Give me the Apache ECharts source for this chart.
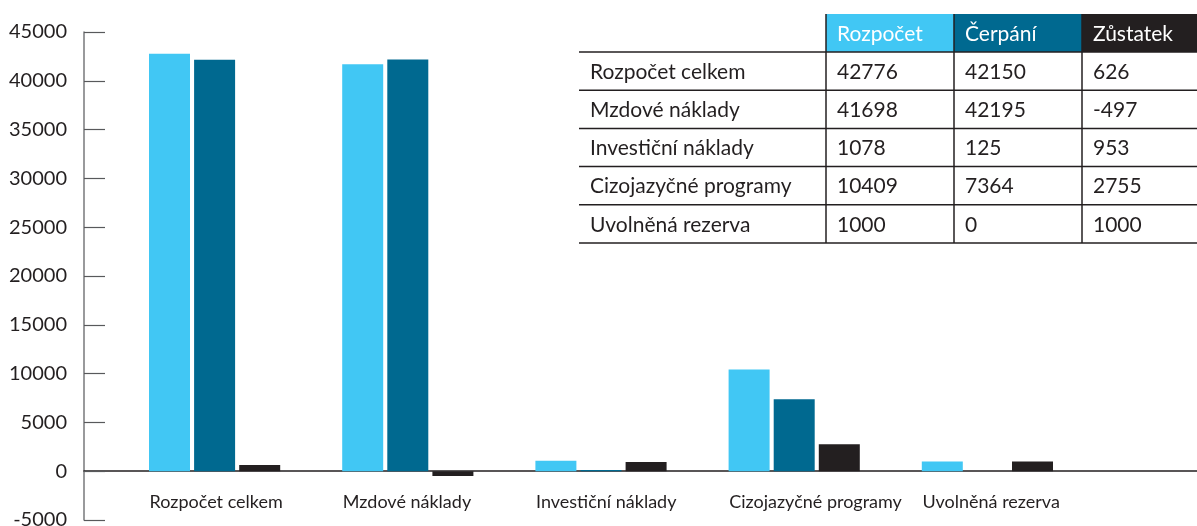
<!DOCTYPE html>
<html>
<head>
<meta charset="utf-8">
<script src="https://cdn.jsdelivr.net/npm/echarts@6/dist/echarts.min.js"></script>
<style>
html,body{margin:0;padding:0;background:#fff;}
#c{width:1197px;height:526px;}
</style>
</head>
<body>
<div id="c"></div>
<script>
const categories = ['Rozpočet celkem', 'Mzdové náklady', 'Investiční náklady', 'Cizojazyčné programy', 'Uvolněná rezerva'];
const seriesNames = ['Rozpočet', 'Čerpání', 'Zůstatek'];
const rozpocet = [42776, 41698, 1078, 10409, 1000];
const cerpani = [42150, 42195, 125, 7364, 0];
const zustatek = [626, -497, 953, 2755, 1000];
const yMin = -5000, yMax = 45000, yStep = 5000;

const colors = ['#41c7f4', '#006990', '#231f20'];
const FONT = 'Lato';
const TXT = '#231f20';

const chart = echarts.init(document.getElementById('c'), null, {renderer: 'canvas'});

// ---- table built from the data arrays ----
const seriesData = [rozpocet, cerpani, zustatek];
const tX = 579, tRight = 1197, tTop = 14, headH = 38, rowH = 38.2;
const colX = [579, 826, 954, 1082];
const tBottom = tTop + headH + rowH * categories.length;
const tFont = 21;
const g = [];
seriesNames.forEach((n, j) => {
  const x0 = colX[j + 1], x1 = j + 2 < colX.length ? colX[j + 2] : tRight;
  g.push({type: 'rect', shape: {x: x0, y: tTop, width: x1 - x0, height: headH}, style: {fill: colors[j]}, z: 10});
  g.push({type: 'text', x: x0 + 11, y: tTop + headH / 2 + 1, style: {text: n, fill: '#fff', font: tFont + 'px ' + FONT, textVerticalAlign: 'middle'}, z: 11});
});
categories.forEach((c, i) => {
  const yc = tTop + headH + rowH * i + rowH / 2 + 1;
  g.push({type: 'text', x: colX[0] + 11, y: yc, style: {text: c, fill: TXT, font: tFont + 'px ' + FONT, textVerticalAlign: 'middle'}, z: 11});
  seriesData.forEach((arr, j) => {
    g.push({type: 'text', x: colX[j + 1] + 11, y: yc, style: {text: String(arr[i]), fill: TXT, font: tFont + 'px ' + FONT, textVerticalAlign: 'middle'}, z: 11});
  });
});
for (let i = 0; i <= categories.length; i++) {
  const y = tTop + headH + rowH * i;
  g.push({type: 'line', shape: {x1: tX, y1: y, x2: tRight, y2: y}, style: {stroke: '#231f20', lineWidth: 1.5}, z: 12});
}
colX.slice(1).forEach(x => {
  g.push({type: 'line', shape: {x1: x, y1: tTop, x2: x, y2: tBottom}, style: {stroke: '#231f20', lineWidth: 1.5}, z: 12});
});

const option = {
  backgroundColor: '#fff',
  animation: false,
  textStyle: {fontFamily: FONT},
  grid: [
    {left: 84, right: 0, top: 32, bottom: 6, containLabel: false, outerBoundsMode: 'none'},
    {left: 118, right: 113, top: 32, bottom: 6, containLabel: false, outerBoundsMode: 'none'}
  ],
  xAxis: [
    {gridIndex: 0, type: 'value', min: 0, max: 1,
     axisLine: {show: true, onZero: true, lineStyle: {color: '#231f20', width: 1.5}},
     axisTick: {show: false}, axisLabel: {show: false}, splitLine: {show: false}},
    {gridIndex: 1, type: 'category', data: categories,
     axisLine: {show: false, onZero: false},
     axisTick: {show: false},
     axisLabel: {color: TXT, fontSize: 18, fontFamily: FONT, margin: -27, align: 'left', padding: [0, 0, 0, -65], interval: 0}}
  ],
  yAxis: [
    {gridIndex: 0, type: 'value', min: yMin, max: yMax, interval: yStep,
     axisLine: {show: true, lineStyle: {color: '#77787b', width: 1.5}},
     axisTick: {show: true, inside: true, length: 21, lineStyle: {color: '#58595b', width: 1.2}},
     axisLabel: {color: TXT, fontSize: 20, fontFamily: FONT, margin: 17, formatter: v => String(v)},
     splitLine: {show: false}},
    {gridIndex: 1, type: 'value', min: yMin, max: yMax, interval: yStep, show: false}
  ],
  series: seriesNames.map((n, j) => ({
    name: n, type: 'bar', xAxisIndex: 1, yAxisIndex: 1,
    data: seriesData[j], barWidth: 41, barGap: '10%',
    itemStyle: {color: colors[j]}
  })),
  graphic: g
};
chart.setOption(option);
</script>
</body>
</html>
